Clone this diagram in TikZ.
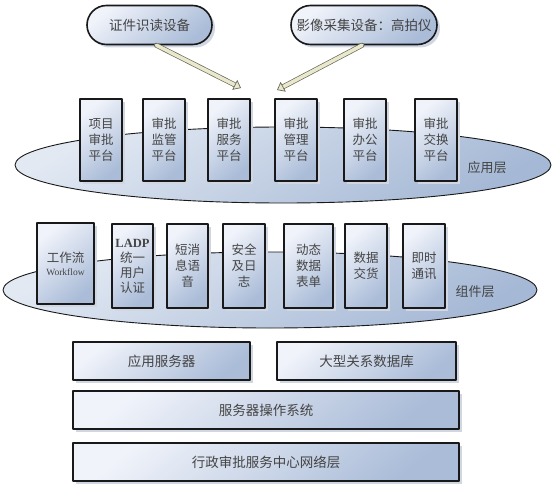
\documentclass[tikz,border=0pt]{standalone}
\usepackage{fontspec}
\setmainfont{Liberation Serif}
\newfontfamily\cjk{Noto Sans CJK SC}
\usetikzlibrary{shapes.misc,shadows,arrows.meta}
\definecolor{edge}{RGB}{25,25,25}
\definecolor{ink}{RGB}{68,68,68}
\definecolor{boxlight}{RGB}{240,243,250}
\definecolor{boxdark}{RGB}{170,188,216}
\definecolor{lyrlight}{RGB}{226,233,243}
\definecolor{lyrdark}{RGB}{165,184,213}
\definecolor{shade}{RGB}{208,215,227}
\definecolor{arrfill}{RGB}{234,232,204}
\definecolor{arrline}{RGB}{105,105,90}
\begin{document}
\begin{tikzpicture}[x=1pt, y=-1pt, line cap=round, line join=round,
	plat/.style={draw=edge, line width=1.3pt, top color=boxlight, bottom color=boxdark, shading angle=40,
		drop shadow={shadow xshift=3pt, shadow yshift=-3pt, fill=shade, opacity=1},
		minimum width=42pt, minimum height=82pt, inner sep=0pt, align=center, text=ink,
		font=\cjk\fontsize{12.5}{16}\selectfont},
	base/.style={plat, minimum height=38pt, font=\cjk\fontsize{13.5}{16}\selectfont},
	dev/.style={plat, rounded rectangle, line width=1.6pt, minimum height=39pt, font=\cjk\fontsize{13.5}{16}\selectfont},
	layer/.style={draw=edge, line width=.9pt, top color=lyrlight, bottom color=lyrdark, shading angle=30},
	lbl/.style={text=ink, font=\cjk\fontsize{13}{16}\selectfont},
	bigarrow/.style={draw=arrline, line width=.7pt, double=arrfill, double distance=3.6pt,
		-{Triangle[length=7pt, width=11pt, fill=arrfill]}}
	]
	\useasboundingbox (0,0) rectangle (553,494);
	% devices
	\node[dev, minimum width=125pt] (zjdev) at (149.5,25) {证件识读设备};
	\node[dev, minimum width=146pt] (yxdev) at (364,25) {影像采集设备：高拍仪};
	\path (241,88) coordinate (tipA)
	(277,90) coordinate (tipB);
	\draw[bigarrow] ([xshift=7pt]zjdev.south) -- (tipA);
	\draw[bigarrow] ([xshift=-2pt]yxdev.south) -- (tipB);
	% application layer
	\draw[layer] (283,165) ellipse [x radius=268, y radius=38];
	\node[plat] (xmsp) at (101,140) {项目\\审批\\平台};
	\node[plat] (spjg) at (164,140) {审批\\监管\\平台};
	\node[plat] (spfw) at (229,140) {审批\\服务\\平台};
	\node[plat] (spgl) at (296,140) {审批\\管理\\平台};
	\node[plat] (spbg) at (365,140) {审批\\办公\\平台};
	\node[plat] (spjh) at (436,140) {审批\\交换\\平台};
	\node[lbl] (yyc) at (487,168) {应用层};
	% component layer
	\draw[layer] (270,290) ellipse [x radius=267, y radius=38];
	\node[plat, minimum width=57pt, minimum height=81pt] (gzl) at (65.5,263.5)
	{工作流\\[-3pt]{\rmfamily\fontsize{9.5}{10}\selectfont Workflow}};
	\node[plat, minimum width=41pt, minimum height=84pt, font=\cjk\fontsize{12.5}{15}\selectfont] (ladp) at (132.5,266)
	{{\rmfamily\bfseries LADP}\\统一\\用户\\认证};
	\node[plat, minimum width=41pt, minimum height=84pt] (dxxy) at (187.5,266) {短消\\息语\\音};
	\node[plat, minimum width=42pt, minimum height=84pt] (aqrz) at (244,266) {安全\\及日\\志};
	\node[plat, minimum width=49pt, minimum height=84pt] (dtbd) at (308.5,266) {动态\\数据\\表单};
	\node[plat, minimum width=42pt, minimum height=84pt] (sjjh) at (366,266) {数据\\交货};
	\node[plat, minimum width=42pt, minimum height=84pt] (jstx) at (424,266) {即时\\通讯};
	\node[lbl] (zjc) at (475,292) {组件层};
	% base
	\node[base, minimum width=177pt] (yyfwq) at (161.5,361) {应用服务器};
	\node[base, minimum width=179pt] (sjk) at (366.5,361) {大型关系数据库};
	\node[base, minimum width=386pt] (czxt) at (266,410) {服务器操作系统};
	\node[base, minimum width=386pt] (wlc) at (266,462) {行政审批服务中心网络层};
\end{tikzpicture}
\end{document}
